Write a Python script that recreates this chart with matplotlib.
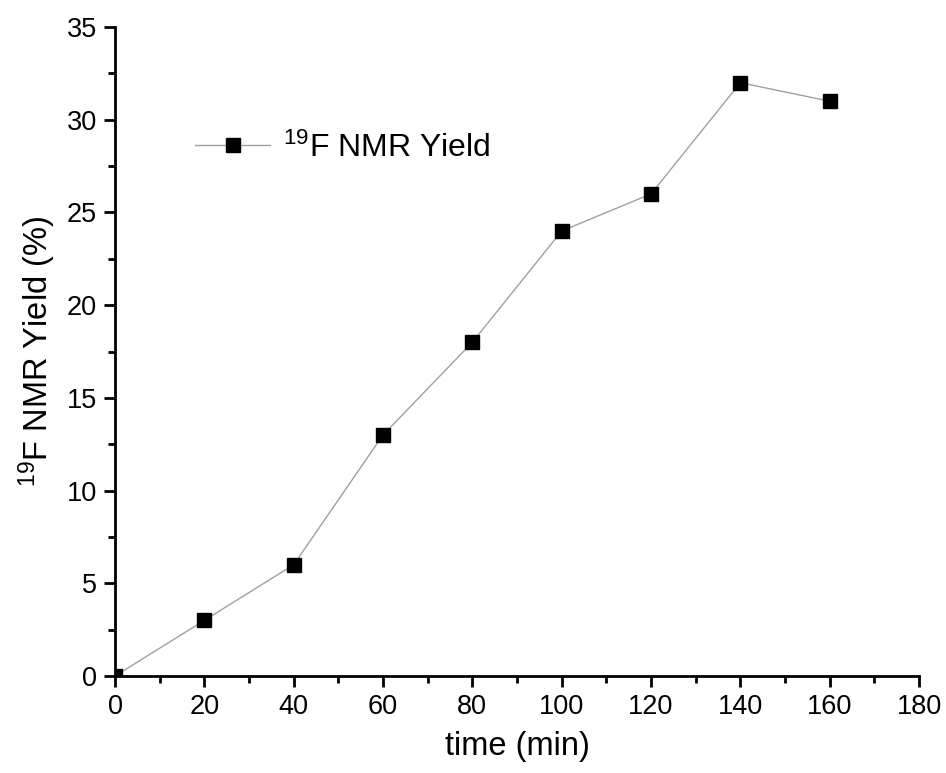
import matplotlib
matplotlib.use("Agg")
from matplotlib import pyplot as plt
from matplotlib.ticker import MultipleLocator

plt.rcParams['font.family'] = ['Liberation Sans', 'DejaVu Sans']
plt.rcParams['mathtext.fontset'] = 'custom'
plt.rcParams['mathtext.rm'] = 'Liberation Sans'
plt.rcParams['mathtext.it'] = 'Liberation Sans:italic'
plt.rcParams['mathtext.bf'] = 'Liberation Sans:bold'

time_min = [0, 20, 40, 60, 80, 100, 120, 140, 160]
nmr_yield = [0, 3, 6, 13, 18, 24, 26, 32, 31]

fig = plt.figure(figsize=(9.46, 7.73), dpi=100)
ax = fig.add_axes([0.1216, 0.1255, 0.8499, 0.8395])

ax.plot(time_min, nmr_yield, color='#a0a0a0', linewidth=1.0,
        marker='s', markersize=10.5, markerfacecolor='black',
        markeredgecolor='black', label=r'$^{19}$F NMR Yield')

ax.set_xlim(0, 180)
ax.set_ylim(0, 35)
ax.xaxis.set_major_locator(MultipleLocator(20))
ax.xaxis.set_minor_locator(MultipleLocator(10))
ax.yaxis.set_major_locator(MultipleLocator(5))
ax.yaxis.set_minor_locator(MultipleLocator(2.5))

for side in ['top', 'right']:
    ax.spines[side].set_visible(False)
for side in ['left', 'bottom']:
    ax.spines[side].set_linewidth(2.0)

ax.tick_params(which='major', direction='out', length=8, width=2.0,
               labelsize=19.5, pad=5)
ax.tick_params(which='minor', direction='out', length=5, width=2.0)

ax.set_xlabel('time (min)', fontsize=23.5, labelpad=8)
ax.set_ylabel(r'$^{19}$F NMR Yield (%)', fontsize=23.5, labelpad=6)

ax.legend(loc='center left', bbox_to_anchor=(0.0995, 0.8136), frameon=False,
          fontsize=23, handlelength=2.35, handletextpad=0.4,
          borderaxespad=0, borderpad=0)

fig.savefig('out.png', dpi=100)
